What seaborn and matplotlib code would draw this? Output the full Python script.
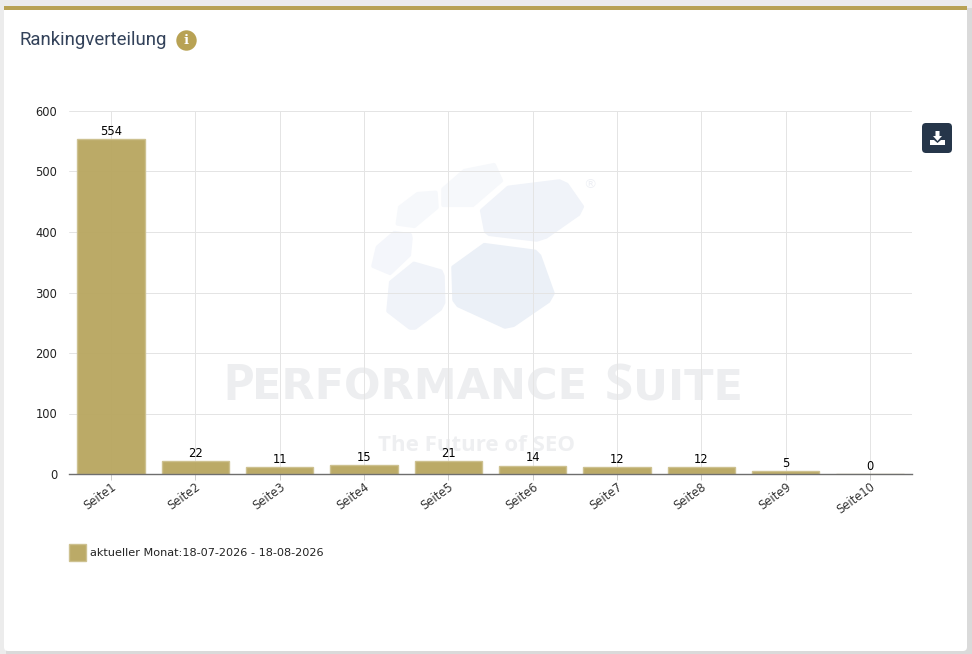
import matplotlib
matplotlib.use("Agg")
import matplotlib.pyplot as plt
import seaborn as sns
import pandas as pd
from matplotlib.patches import Rectangle, Circle, FancyBboxPatch, Polygon

pages = ["Seite1", "Seite2", "Seite3", "Seite4", "Seite5", "Seite6", "Seite7", "Seite8", "Seite9", "Seite10"]
counts = [554, 22, 11, 15, 21, 14, 12, 12, 5, 0]
series_label = "aktueller Monat:18-07-2026 - 18-08-2026"
y_ticks = [0, 100, 200, 300, 400, 500, 600]
title = "Rankingverteilung"

W, H = 972, 654
GOLD = "#b8a254"
BAR = "#b8a65f"
sns.set_theme(style="white")
plt.rcParams["font.family"] = ["DejaVu Sans"]

fig = plt.figure(figsize=(W / 100, H / 100), dpi=100, facecolor="#ececec")

# backdrop layer in pixel coordinates
bg = fig.add_axes([0, 0, 1, 1], zorder=0)
bg.set_xlim(0, W); bg.set_ylim(H, 0); bg.axis("off")
bg.add_patch(Rectangle((6, 8), W, 647, fc="#dadada", ec="none"))
bg.add_patch(FancyBboxPatch((7, 10), 957, 638, boxstyle="round,pad=3,rounding_size=4", fc="white", ec="none"))
bg.add_patch(Rectangle((4, 6), 963, 4, fc=GOLD, ec="none"))
bg.text(19, 40, title, family="Roboto", fontsize=13.4, color="#33425a", va="center", ha="left")
bg.add_patch(Circle((186.5, 40.5), 10.2, fc=GOLD, ec="none"))
bg.text(186.5, 40.5, "i", family="DejaVu Serif", weight="bold", fontsize=9.5, color="white", ha="center", va="center")

# download button
bg.add_patch(FancyBboxPatch((925, 126), 24, 24, boxstyle="round,pad=3,rounding_size=4", fc="#26364a", ec="none"))
bg.add_patch(Polygon([(935.5, 131), (939.5, 131), (939.5, 136), (942, 136), (937.5, 141), (933, 136), (935.5, 136)], fc="white", ec="none"))
bg.add_patch(Polygon([(930, 140), (934, 140), (937.5, 143), (941, 140), (945, 140), (945, 145), (930, 145)], fc="white", ec="none"))

# watermark
def wm(points, color):
    pts = [(350 + x / 3, 150 + y / 3) for x, y in points]
    bg.add_patch(Polygon(pts, closed=True, fc=color, ec=color, lw=3, joinstyle="round"))

wm([(310, 352), (403, 285), (555, 305), (568, 318), (608, 430), (595, 453), (490, 525), (465, 530), (325, 466), (313, 450)], "#ebf0f7")
wm([(396, 182), (475, 113), (628, 94), (650, 104), (696, 170), (685, 192), (588, 260), (560, 269), (418, 252), (408, 244)], "#f0f3f9")
wm([(123, 397), (192, 341), (272, 364), (278, 378), (280, 458), (270, 477), (195, 533), (180, 533), (115, 483)], "#f0f3f9")
wm([(83, 292), (133, 249), (180, 255), (182, 265), (177, 315), (120, 369), (70, 348)], "#f4f6fb")
wm([(150, 172), (203, 132), (257, 128), (260, 172), (193, 228), (143, 221)], "#f6f8fb")
wm([(280, 118), (343, 63), (432, 45), (453, 92), (368, 165), (280, 165)], "#f6f8fb")
bg.text(590, 185, "®", fontsize=9.5, color="#eef0f5", ha="center", va="center")
WM = "#edeef0"
for x, s, font, size in [(222, "P", "Open Sans", 37), (252, "ERFORMANCE", "DejaVu Sans", 31),
                         (605, "S", "Open Sans", 37), (633, "UITE", "DejaVu Sans", 31)]:
    bg.text(x, 400, s, family=font, weight="bold", fontsize=size, color=WM, ha="left", va="baseline")
bg.text(378, 451, "The Future of SEO", family="Open Sans", weight="bold", fontsize=16, color="#eeeff1", ha="left", va="baseline")

# chart
ax = fig.add_axes([69 / W, 1 - 474 / H, (912 - 69) / W, (474 - 111) / H], zorder=1)
ax.patch.set_alpha(0)
df = pd.DataFrame({"page": pages, "count": counts, "series": series_label})
sns.barplot(data=df, x="page", y="count", hue="series", palette=[BAR], width=0.8, dodge=False,
            saturation=1, alpha=0.95, edgecolor="#cdc08f", linewidth=1, ax=ax, zorder=3)
ax.set_xlim(-0.5, 9.5); ax.set_ylim(0, 600)
ax.set_yticks(y_ticks)
ax.set_xlabel(""); ax.set_ylabel("")
ax.grid(True, color="#e4e4e4", lw=0.7, zorder=1)
ax.set_axisbelow(True)
for side in ["top", "right", "left"]:
    ax.spines[side].set_visible(False)
ax.spines["bottom"].set_color("#6e6e6e")
ax.spines["bottom"].set_linewidth(1)
ax.spines["bottom"].set_zorder(5)
ax.tick_params(axis="y", length=0, pad=8.5, labelsize=8.3, labelcolor="#222222")
ax.tick_params(axis="x", length=4, width=0.7, color="#cccccc", pad=0.5, labelsize=8.3, labelcolor="#333333", bottom=True)
plt.setp(ax.get_xticklabels(), rotation=36, ha="right", rotation_mode="anchor")
for c in ax.containers:
    ax.bar_label(c, labels=[str(v) for v in counts], padding=0.8, fontsize=8.3, color="black", zorder=6)

handles, labels = ax.get_legend_handles_labels()
leg = ax.legend(handles, labels, loc="upper left", bbox_to_anchor=(69 / W, 1 - 544 / H),
                bbox_transform=fig.transFigure, frameon=False, fontsize=8.15, borderpad=0, borderaxespad=0,
                handlelength=1.5, handleheight=1.9, handletextpad=0.35, labelcolor="#222222")

fig.savefig("out.png", dpi=100, facecolor=fig.get_facecolor())
